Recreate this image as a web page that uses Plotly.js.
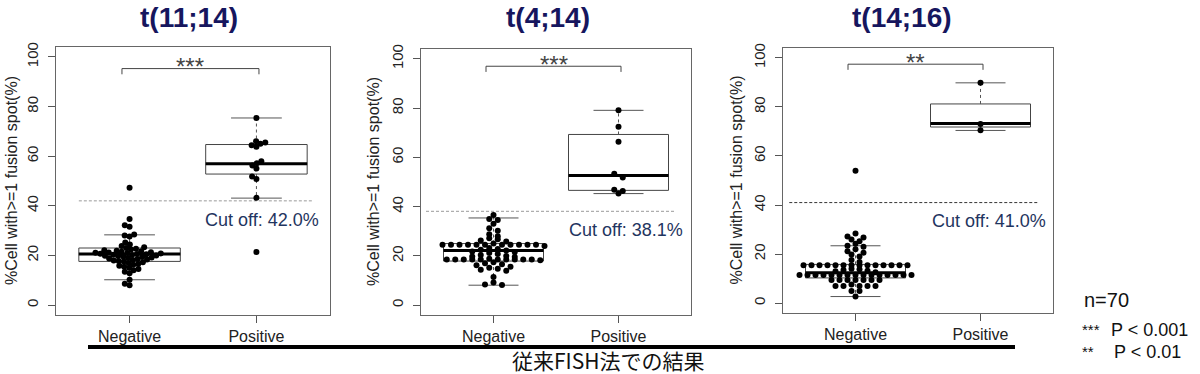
<!DOCTYPE html>
<html><head><meta charset="utf-8">
<script src="https://cdn.plot.ly/plotly-3.0.1.min.js"></script>
<style>html,body{margin:0;padding:0;background:#fff}</style>
</head><body><div id="chart" style="width:1200px;height:374px"></div>
<script>
// ---------------- data ----------------
const panelTitles = ["t(11;14)", "t(4;14)", "t(14;16)"];
const groupLabels = ["Negative", "Positive"];
const yTicks = [0, 20, 40, 60, 80, 100];
const yTitle = "%Cell with>=1 fusion spot(%)";

const neg1 = [47.3, 34.7, 32.2, 31.6, 28.4, 28.0, 27.6,
  25.2, 24.4, 23.8, 23.3, 23.0, 22.7, 22.4, 22.1, 21.9, 21.7, 21.5, 21.3, 21.2, 21.1, 21.0,
  20.8, 20.7, 20.6, 20.5, 20.3, 20.2, 20.0, 19.9, 19.8, 19.6, 19.4, 19.2, 19.0, 18.8, 18.6,
  18.4, 18.2, 18.0, 17.8, 17.6, 17.3, 17.0, 16.6, 16.2, 15.8, 15.4, 15.0, 14.5, 14.0, 13.4,
  12.8, 10.2, 8.6, 8.0];
const pos1 = [75.4, 66.0, 65.5, 65.0, 64.4, 63.8, 58.0, 57.2, 56.2, 55.0, 51.8, 50.8, 43.2, 21.4];

const neg2 = [36.6, 35.0, 34.6, 33.0, 31.2, 30.2, 28.8, 28.0, 27.2, 26.8, 26.2, 25.8,
  25.0, 24.5, 24.5, 24.5, 24.5, 24.5, 24.5, 24.5, 24.5, 24.5, 24.5, 24.5, 24.0,
  23.2, 22.8, 22.5, 22.2, 21.8, 21.6, 21.2, 20.8, 20.4, 20.0, 19.8, 19.6,
  18.8, 18.5, 18.5, 18.5, 18.5, 18.5, 18.5, 18.5, 18.5, 18.5, 18.5, 18.2,
  17.4, 17.0, 16.6, 16.2, 15.6, 15.2, 14.8, 14.4, 14.0, 11.4, 9.2, 8.4, 8.2];
const pos2 = [79.1, 72.4, 66.3, 53.4, 51.8, 46.9, 46.3, 45.3];

const neg3 = [54.0, 28.4, 27.2, 26.8, 26.0, 25.2, 24.2, 23.4, 23.0, 22.0, 21.2, 20.6, 19.8, 19.0, 17.6, 16.8,
  15.5, 15.5, 15.5, 15.5, 15.5, 15.5, 15.5, 15.5, 15.5, 15.5, 15.5, 15.5, 15.5, 15.5,
  14.0, 13.8, 13.5, 13.2, 13.0, 12.6,
  11.5, 11.5, 11.5, 11.5, 11.5, 11.5, 11.5, 11.5, 11.5, 11.5, 11.5, 11.5, 11.5, 11.5, 11.5,
  9.5, 9.5, 9.5, 9.5, 9.5, 9.5, 9.5, 7.6, 7.0, 7.0, 7.0, 7.0, 7.0, 5.0, 5.0, 2.7];
const pos3 = [89.8, 73.0, 70.5];

// box statistics: [lower whisker, Q1, median, Q3, upper whisker]
const negStats1 = [10.2, 17.6, 20.6, 23.0, 28.3];
const posStats1 = [43.1, 52.8, 57.0, 64.7, 75.4];
const negStats2 = [8.1, 17.9, 22.2, 25.0, 35.4];
const posStats2 = [45.3, 46.6, 52.6, 69.3, 79.1];
const negStats3 = [2.7, 10.3, 12.4, 15.8, 23.4];
const posStats3 = [70.4, 71.8, 73.2, 81.2, 89.8];

const cutoffs = [42.0, 38.1, 41.0];
const cutoffLabels = ["Cut off: 42.0%", "Cut off: 38.1%", "Cut off: 41.0%"];
const stars = ["***", "***", "**"];
const footLabel = "従来FISH法での結果";
const nLabel = "n=70";
const legendStars = ["***", "**"];
const legendP = ["P < 0.001", "P < 0.01"];

// ---------------- layout helpers ----------------
const W = 1200, H = 374;
const boxes = [
  {l: 56, r: 330, t: 47, b: 315, method: 'swarm', spacing: 5, cutX: [0.6, 2.44], cutColor: '#9a9a9a', bracket: 95.3, labelPos: [2.04, 34.1], titleX: 12},
  {l: 421, r: 691, t: 49, b: 315, method: 'center', spacing: 8.5, binY: 2, binOrigin: 24.5, cutX: [0.46, 2.45], cutColor: '#9a9a9a', bracket: 97.0, labelPos: [2.06, 30.4], titleX: 374},
  {l: 783, r: 1053, t: 48, b: 313, method: 'center', spacing: 8, binY: 2, binOrigin: 11.5, cutX: [0.47, 2.46], cutColor: '#333', bracket: 97.4, labelPos: [2.07, 33.5], titleX: 736}
];
const panelData = [[neg1, pos1], [neg2, pos2], [neg3, pos3]];
const panelStats = [[negStats1, posStats1], [negStats2, posStats2], [negStats3, posStats3]];
const titleCenters = [188.5, 548, 902];
const XR = [0.42, 2.58], YR = [-4, 104];

function swarm(values, d, xs, ys) {
  const idx = values.map((v, i) => i).sort((a, b) => values[a] - values[b]);
  const placed = [], off = new Array(values.length);
  for (const i of idx) {
    const y = values[i] * ys;
    const cands = [0];
    for (const p of placed) {
      const dy = Math.abs(p.y - y);
      if (dy < d) { const dx = Math.sqrt(d * d - dy * dy); cands.push(p.x + dx, p.x - dx); }
    }
    cands.sort((a, b) => (Math.abs(a) - Math.abs(b)) || (a - b));
    let chosen = 0;
    for (const c of cands) {
      let ok = true;
      for (const p of placed) {
        const dx = c - p.x, dy = p.y - y;
        if (dx * dx + dy * dy < d * d - 1e-6) { ok = false; break; }
      }
      if (ok) { chosen = c; break; }
    }
    placed.push({x: chosen, y});
    off[i] = chosen / xs;
  }
  return off;
}

// "center" beeswarm: points binned by value, spread evenly around the centre of each bin
function centerSwarm(values, d, xs, binY, origin) {
  const bins = {};
  values.forEach((v, i) => {
    const k = Math.round((v - origin) / binY + 1e-9);
    (bins[k] = bins[k] || []).push(i);
  });
  const off = new Array(values.length);
  Object.values(bins).forEach(list => {
    list.sort((a, b) => values[b] - values[a]);
    const n = list.length;
    const slots = [];
    for (let s = 0; s < n; s++) slots.push((s - (n - 1) / 2) * d);
    slots.sort((a, b) => (Math.abs(a) - Math.abs(b)) || (a - b));
    list.forEach((idx, j) => { off[idx] = slots[j] / xs; });
  });
  return off;
}

const traces = [];
const layout = {
  width: W, height: H, margin: {l: 0, r: 0, t: 0, b: 0},
  paper_bgcolor: '#fff', plot_bgcolor: '#fff', showlegend: false,
  font: {family: 'Liberation Sans, Arial, sans-serif', color: '#222'},
  annotations: [], shapes: []
};

boxes.forEach((bx, i) => {
  const sfx = i === 0 ? '' : String(i + 1);
  const xa = 'x' + sfx, ya = 'y' + sfx;
  layout['xaxis' + sfx] = {
    domain: [bx.l / W, bx.r / W], range: XR, anchor: ya,
    tickmode: 'array', tickvals: [1, 2], ticktext: groupLabels,
    ticks: 'outside', ticklen: 7, tickcolor: '#555',
    showline: true, mirror: true, linecolor: '#666', linewidth: 1,
    showgrid: false, zeroline: false, fixedrange: true,
    tickfont: {size: 16, color: '#222'}
  };
  layout['yaxis' + sfx] = {
    domain: [1 - bx.b / H, 1 - bx.t / H], range: YR, anchor: xa,
    tickmode: 'array', tickvals: yTicks, tickangle: -90,
    ticks: 'outside', ticklen: 7, tickcolor: '#555', ticklabelstandoff: 4,
    showline: true, mirror: true, linecolor: '#666', linewidth: 1,
    showgrid: false, zeroline: false, fixedrange: true,
    tickfont: {size: 15, color: '#222'}
  };
  const xs = (bx.r - bx.l) / (XR[1] - XR[0]);
  const ys = (bx.b - bx.t) / (YR[1] - YR[0]);

  // boxplots
  panelStats[i].forEach((s, g) => {
    const c = g + 1; const [lo, q1, med, q3, hi] = s;
    const base = {type: 'scatter', mode: 'lines', xaxis: xa, yaxis: ya, hoverinfo: 'skip'};
    traces.push(Object.assign({}, base, {x: [c - .4, c + .4, c + .4, c - .4, c - .4], y: [q1, q1, q3, q3, q1], line: {color: '#444', width: 1}}));
    traces.push(Object.assign({}, base, {x: [c, c, null, c, c], y: [q3, hi, null, q1, lo], line: {color: '#555', width: 1, dash: '3px,3px'}}));
    traces.push(Object.assign({}, base, {x: [c - .2, c + .2, null, c - .2, c + .2], y: [hi, hi, null, lo, lo], line: {color: '#555', width: 1}}));
    traces.push(Object.assign({}, base, {x: [c - .4, c + .4], y: [med, med], line: {color: '#000', width: 3}}));
  });

  // cutoff line
  traces.push({type: 'scatter', mode: 'lines', xaxis: xa, yaxis: ya, hoverinfo: 'skip',
    x: bx.cutX, y: [cutoffs[i], cutoffs[i]], line: {color: bx.cutColor, width: 1, dash: '3px,2px'}});

  // significance bracket
  const by = bx.bracket, tip = 2.3;
  traces.push({type: 'scatter', mode: 'lines', xaxis: xa, yaxis: ya, hoverinfo: 'skip',
    x: [0.94, 0.94, 2.02, 2.02], y: [by - tip, by, by, by - tip], line: {color: '#444', width: 1}});

  // points (beeswarm)
  panelData[i].forEach((vals, g) => {
    const off = bx.method === 'swarm'
      ? swarm(vals, bx.spacing, xs, ys)
      : centerSwarm(vals, bx.spacing, xs, bx.binY, bx.binOrigin);
    traces.push({type: 'scatter', mode: 'markers', xaxis: xa, yaxis: ya, hoverinfo: 'skip',
      x: vals.map((v, k) => g + 1 + off[k]), y: vals,
      marker: {color: '#000', size: 6, line: {width: 0}}});
  });

  // texts
  layout.annotations.push({xref: 'paper', yref: 'paper', x: titleCenters[i] / W, y: 1 - 18 / H,
    xanchor: 'center', yanchor: 'middle', showarrow: false, text: '<b>' + panelTitles[i] + '</b>',
    font: {size: 28, color: '#16165e', family: 'Liberation Sans, Arial, sans-serif'}});
  layout.annotations.push({xref: 'paper', yref: 'paper', x: bx.titleX / W, y: 1 - ((bx.t + bx.b) / 2) / H,
    xanchor: 'center', yanchor: 'middle', showarrow: false, textangle: -90, text: yTitle,
    font: {size: 16, color: '#222'}});
  layout.annotations.push({xref: xa, yref: ya, x: bx.labelPos[0], y: bx.labelPos[1],
    xanchor: 'center', yanchor: 'middle', showarrow: false, text: cutoffLabels[i],
    font: {size: 18, color: '#1f3560'}});
  layout.annotations.push({xref: xa, yref: ya, x: 1.48, y: by + 0.8,
    xanchor: 'center', yanchor: 'middle', showarrow: false, text: stars[i],
    font: {size: 24, color: '#444'}});
});

// bottom rule and caption
layout.shapes.push({type: 'line', xref: 'paper', yref: 'paper', x0: 88 / W, x1: 1015 / W,
  y0: 1 - 347 / H, y1: 1 - 347 / H, line: {color: '#000', width: 4}});
layout.annotations.push({xref: 'paper', yref: 'paper', x: 608 / W, y: 1 - 360 / H,
  xanchor: 'center', yanchor: 'middle', showarrow: false, text: footLabel,
  font: {size: 21, color: '#111', family: 'Noto Sans CJK JP, Liberation Sans, sans-serif'}});

// right-hand notes
layout.annotations.push({xref: 'paper', yref: 'paper', x: 1082 / W, y: 1 - 300 / H,
  xanchor: 'left', yanchor: 'middle', showarrow: false, text: nLabel, font: {size: 20, color: '#111'}});
const lyY = [330, 352], pX = [1110, 1113];
legendStars.forEach((s, k) => {
  layout.annotations.push({xref: 'paper', yref: 'paper', x: 1081 / W, y: 1 - (lyY[k] - 1) / H,
    xanchor: 'left', yanchor: 'middle', showarrow: false, borderpad: 0, text: s, font: {size: 15, color: '#111'}});
  layout.annotations.push({xref: 'paper', yref: 'paper', x: pX[k] / W, y: 1 - lyY[k] / H,
    xanchor: 'left', yanchor: 'middle', showarrow: false, borderpad: 0, text: legendP[k].replace('<', '&lt;'), font: {size: 18, color: '#111'}});
});

Plotly.newPlot('chart', traces, layout, {staticPlot: true, displayModeBar: false});
</script>
</body></html>
